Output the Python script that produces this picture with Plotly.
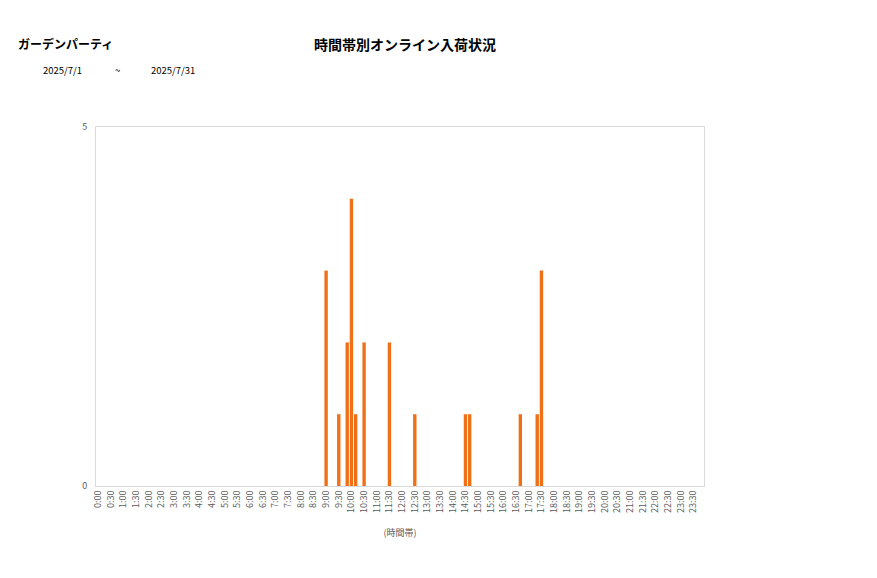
import plotly.graph_objects as go

# 10-minute slots, labelled every 30 minutes
slots = [f"{h}:{m:02d}" for h in range(24) for m in range(0, 60, 10)]
tick_labels = [f"{h}:{m:02d}" for h in range(24) for m in (0, 30)]

# slots that had arrivals and their counts
bar_times = ["9:00", "9:30", "9:50", "10:00", "10:10", "10:30", "11:30",
             "12:30", "14:30", "14:40", "16:40", "17:20", "17:30"]
bar_counts = [3, 1, 2, 4, 1, 2, 2, 1, 1, 1, 1, 1, 3]

counts = dict(zip(bar_times, bar_counts))
y = [counts.get(s, 0) for s in slots]

font = "Noto Sans CJK JP, Noto Sans, sans-serif"

# plot area in layout pixels (page body adds an 8px offset)
L, T, W, H = 88, 119, 608, 359

fig = go.Figure()
fig.add_trace(go.Bar(x=slots, y=y, marker_color="#F07018", marker_line_width=0))

fig.update_layout(
    width=877, height=578,
    paper_bgcolor="white", plot_bgcolor="white",
    margin=dict(l=L, r=877 - L - W, t=T, b=578 - T - H),
    bargap=0.2,
    showlegend=False,
    font=dict(family=font, color="#595959", size=9),
)
fig.update_xaxes(
    type="category", categoryorder="array", categoryarray=slots,
    tickmode="array", tickvals=tick_labels, ticktext=tick_labels,
    tickangle=-90, ticks="", tickfont=dict(size=9, color="#595959"),
    showgrid=False, showline=True, linecolor="#D9D9D9", mirror=True,
    title=dict(text="(時間帯)", font=dict(size=9, color="#595959"), standoff=17),
)
fig.update_yaxes(
    range=[0, 5], tickvals=[0, 5], ticks="", showgrid=False,
    showline=True, linecolor="#D9D9D9", mirror=True, zeroline=False,
    tickfont=dict(size=9, color="#595959"), ticklabelstandoff=6,
)

def px_x(p):
    return (p - L) / W

def px_y(p):
    return 1 + (T - p) / H

fig.add_annotation(text="<b>ガーデンパーティ</b>", xref="paper", yref="paper",
                   x=px_x(8), y=px_y(36), xanchor="left", yanchor="middle",
                   showarrow=False, font=dict(size=12, color="black", family=font))
fig.add_annotation(text="<b>時間帯別オンライン入荷状況</b>", xref="paper", yref="paper",
                   x=px_x(397), y=px_y(36), xanchor="center", yanchor="middle",
                   showarrow=False, font=dict(size=14, color="black", family=font))
for txt, p in [("2025/7/1", 33), ("~", 105), ("2025/7/31", 141)]:
    fig.add_annotation(text=txt, xref="paper", yref="paper",
                       x=px_x(p), y=px_y(62), xanchor="left", yanchor="middle",
                       showarrow=False, font=dict(size=9.5, color="black", family=font))

fig.write_html("out.html")
